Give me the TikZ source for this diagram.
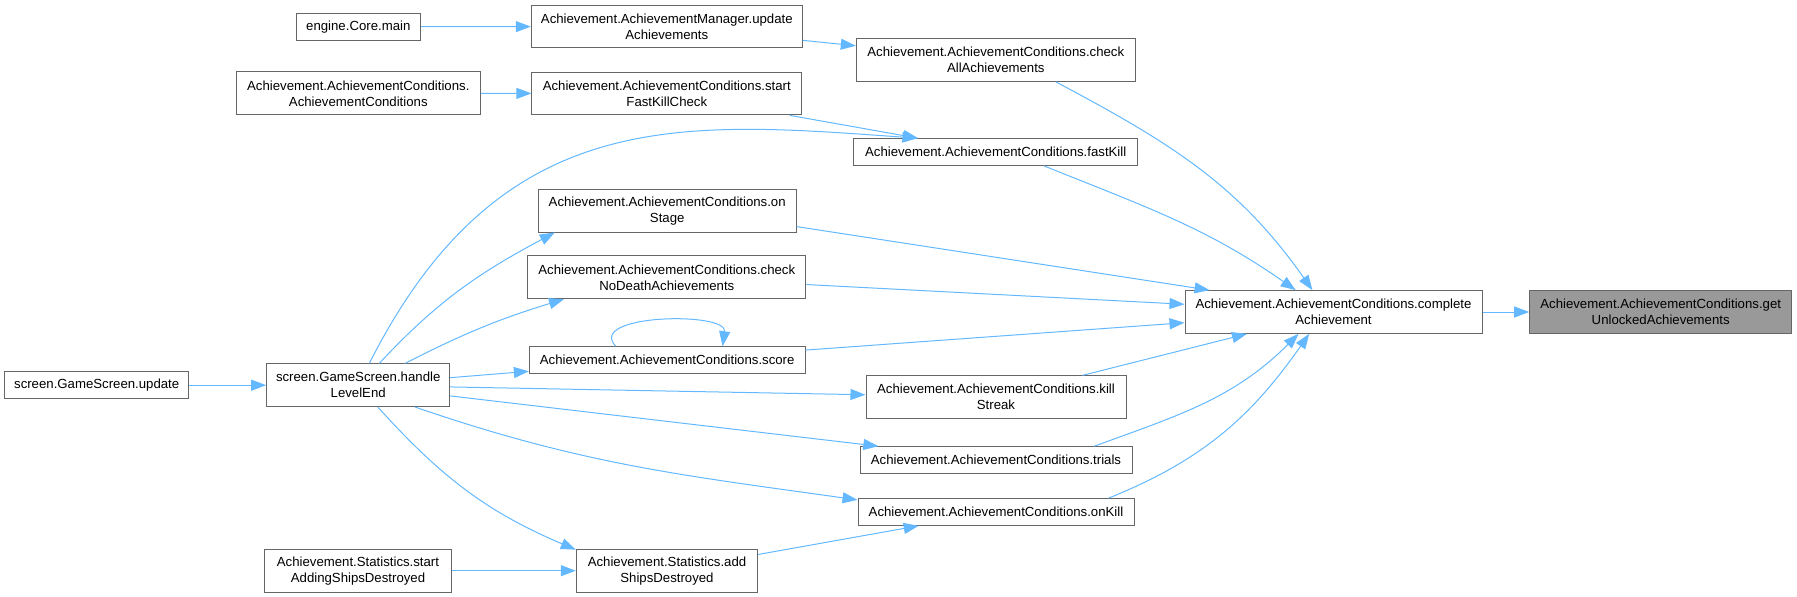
\documentclass[tikz,border=0pt]{standalone}
\usepackage{fontspec}
\setmainfont{Liberation Sans}
\usetikzlibrary{arrows.meta}
\definecolor{edgeblue}{HTML}{63B8FF}
\definecolor{boxgray}{HTML}{666666}
\definecolor{hlgray}{HTML}{999999}

\begin{document}
\begin{tikzpicture}[x=1pt,y=1pt,
  fn/.style={draw=boxgray,fill=white,line width=1pt,align=center,inner sep=0pt,font=\fontsize{13.2}{16}\selectfont},
  oneline/.style={fn,minimum height=26.6pt},
  twoline/.style={fn,minimum height=42.7pt},
  call/.style={edgeblue,line width=1pt,-{Triangle[length=15pt,width=11pt]}}]
\useasboundingbox (0,0) rectangle (1797,-597);
\node[oneline,minimum width=184pt] (update) at (96.7,-385.2) {screen.GameScreen.update};
\node[oneline,minimum width=124pt] (core) at (358.3,-26.8) {engine.Core.main};
\node[twoline,minimum width=244pt] (acc) at (358.3,-93.3) {Achievement.AchievementConditions.\\AchievementConditions};
\node[twoline,minimum width=183pt] (level) at (358.2,-385.2) {screen.GameScreen.handle\\LevelEnd};
\node[twoline,minimum width=186.6pt] (startadd) at (358,-570.7) {Achievement.Statistics.start\\AddingShipsDestroyed};
\node[twoline,minimum width=271pt] (upd) at (666.8,-26.5) {Achievement.AchievementManager.update\\Achievements};
\node[twoline,minimum width=269.7pt] (sfk) at (666.8,-93.5) {Achievement.AchievementConditions.start\\FastKillCheck};
\node[twoline,minimum width=257.7pt] (onstage) at (667.2,-210.7) {Achievement.AchievementConditions.on\\Stage};
\node[twoline,minimum width=278.3pt] (nodeath) at (666.8,-277.3) {Achievement.AchievementConditions.check\\NoDeathAchievements};
\node[oneline,minimum width=275.7pt] (score) at (667.2,-360) {Achievement.AchievementConditions.score};
\node[twoline,minimum width=181.4pt] (addships) at (667,-570.7) {Achievement.Statistics.add\\ShipsDestroyed};
\node[twoline,minimum width=279pt] (checkall) at (995.8,-60) {Achievement.AchievementConditions.check\\AllAchievements};
\node[oneline,minimum width=284pt] (fastkill) at (995.7,-152) {Achievement.AchievementConditions.fastKill};
\node[twoline,minimum width=260pt] (killstreak) at (996,-397.2) {Achievement.AchievementConditions.kill\\Streak};
\node[oneline,minimum width=272pt] (trials) at (996,-460) {Achievement.AchievementConditions.trials};
\node[oneline,minimum width=276pt] (onkill) at (996,-512) {Achievement.AchievementConditions.onKill};
\node[twoline,minimum width=297pt] (complete) at (1333.5,-312) {Achievement.AchievementConditions.complete\\Achievement};
\node[twoline,minimum width=262pt,fill=hlgray] (unlocked) at (1660.7,-312) {Achievement.AchievementConditions.get\\UnlockedAchievements};
\draw[call] (core) -- (upd);
\draw[call] (upd) -- (checkall);
\draw[call] (acc) -- (sfk);
\draw[call] (sfk) -- (fastkill);
\draw[call] (level.63) .. controls +(131,259) and +(-237,17) .. (fastkill.170);
\draw[call] (level.46) to[out=47,in=208] (onstage.191);
\draw[call] (level.25) to[out=27,in=197] (nodeath.192);
\draw[call] (level) -- (score);
\draw[call] (score.165) .. controls +(-30,32) and +(5,35) .. (score.14);
\draw[call] (level) -- (killstreak);
\draw[call] (level) -- (trials);
\draw[call] (level.-21) to[out=-19,in=172] (onkill.175);
\draw[call] (level.-48) to[out=-48,in=157] (addships.167);
\draw[call] (startadd) -- (addships);
\draw[call] (addships) -- (onkill);
\draw[call] (update) -- (level);
\draw[call] (checkall.-20) to[out=-28,in=125] (complete.134);
\draw[call] (fastkill.-16) to[out=-22,in=145] (complete.150);
\draw[call] (onstage.-7) -- (complete.170);
\draw[call] (nodeath) -- (complete);
\draw[call] (score) -- (complete);
\draw[call] (killstreak) -- (complete);
\draw[call] (trials.8) to[out=20,in=225] (complete.212);
\draw[call] (onkill.7) to[out=22,in=235] (complete.222);
\draw[call] (complete) -- (unlocked);
\end{tikzpicture}
\end{document}
